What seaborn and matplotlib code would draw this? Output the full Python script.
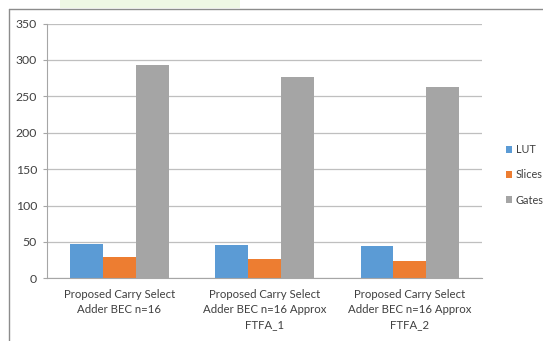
import matplotlib
matplotlib.use("Agg")
import matplotlib.pyplot as plt
import seaborn as sns
import pandas as pd
from matplotlib.lines import Line2D
from matplotlib.patches import Rectangle

categories = [
    "Proposed Carry Select\nAdder BEC n=16",
    "Proposed Carry Select\nAdder BEC n=16 Approx\nFTFA_1",
    "Proposed Carry Select\nAdder BEC n=16 Approx\nFTFA_2",
]
series = ["LUT", "Slices", "Gates"]
lut = [47, 46, 44]
slices = [29, 27, 24]
gates = [293, 276, 263]
y_ticks = [0, 50, 100, 150, 200, 250, 300, 350]
colors = ["#5B9BD5", "#ED7D31", "#A5A5A5"]

rows = []
for s, vals in zip(series, [lut, slices, gates]):
    for c, v in zip(categories, vals):
        rows.append({"category": c, "series": s, "value": v})
df = pd.DataFrame(rows)

sns.set_theme(style="white")
plt.rcParams["font.family"] = ["Lato", "DejaVu Sans"]

W, H = 543, 341
fig = plt.figure(figsize=(W / 100, H / 100), dpi=100)
ax = fig.add_axes([46.8 / W, 1 - 278.3 / H, (482.5 - 46.8) / W, (278.3 - 23.5) / H])

sns.barplot(data=df, x="category", y="value", hue="series", hue_order=series,
            palette=colors, width=0.68, saturation=1, ax=ax, legend=True,
            linewidth=0)

ax.set_ylim(0, 350)
ax.set_xlim(-0.5, 2.5)
ax.set_yticks(y_ticks)
ax.set_yticklabels([str(t) for t in y_ticks], fontsize=8.8, color="#404040")
ax.yaxis.grid(True, color="#BFBFBF", linewidth=0.9)
ax.set_axisbelow(True)
ax.set_xlabel("")
ax.set_ylabel("")
ax.set_xticks(range(len(categories)))
ax.set_xticklabels(categories, fontsize=8.2, color="#404040", linespacing=1.4)
ax.set_xticks([-0.5, 0.5, 1.5, 2.5], minor=True)
ax.tick_params(axis="x", which="major", length=0, pad=8)
ax.tick_params(axis="x", which="minor", length=4, color="#A6A6A6", width=0.8)
ax.tick_params(axis="y", length=3, color="#A6A6A6", width=0.8, pad=4, left=True)
for side in ["top", "right"]:
    ax.spines[side].set_visible(False)
ax.spines["left"].set_color("#A6A6A6")
ax.spines["bottom"].set_color("#A6A6A6")
ax.spines["left"].set_linewidth(0.8)
ax.spines["bottom"].set_linewidth(0.8)

leg = ax.legend(loc="center left", bbox_to_anchor=(502 / W, 1 - 175 / H),
                bbox_transform=fig.transFigure, frameon=False, fontsize=7.8,
                handlelength=0.55, handleheight=0.55, handletextpad=0.3,
                labelspacing=1.3, borderaxespad=0)
for t in leg.get_texts():
    t.set_color("#404040")

# chart-area border (top and left visible)
fig.add_artist(Line2D([8.7 / W, 1.0], [1 - 9 / H, 1 - 9 / H], transform=fig.transFigure,
                      color="#8C8C8C", linewidth=1.0))
fig.add_artist(Line2D([8.7 / W, 8.7 / W], [0, 1 - 9 / H], transform=fig.transFigure,
                      color="#8C8C8C", linewidth=1.0))
fig.add_artist(Rectangle((60 / W, 1 - 8 / H), 180 / W, 8 / H, transform=fig.transFigure,
                         facecolor="#EEF7E4", edgecolor="none"))

fig.savefig("out.png", dpi=100)
